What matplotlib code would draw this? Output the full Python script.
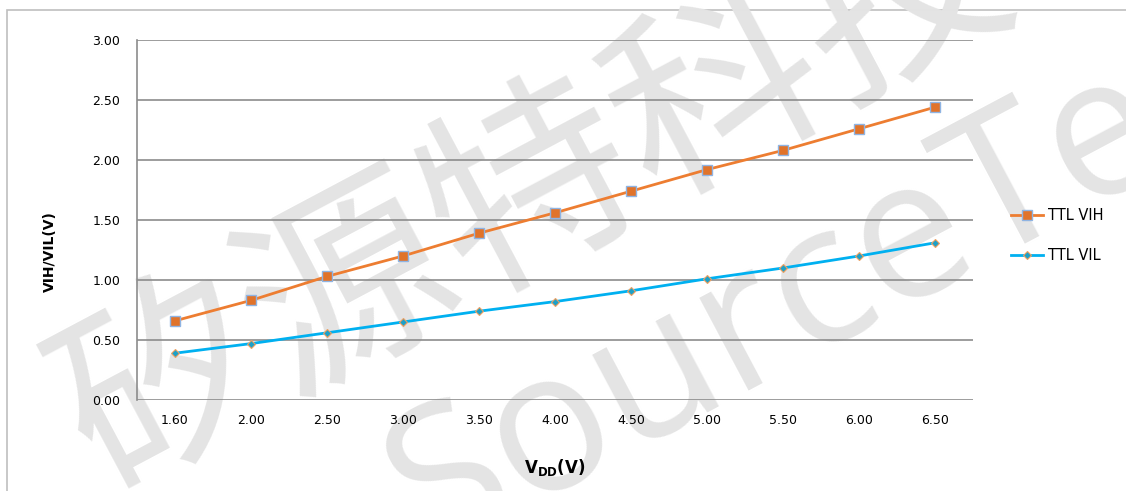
import matplotlib
matplotlib.use("Agg")
import matplotlib.pyplot as plt
from matplotlib.patches import Rectangle

# data
vdd_labels = ["1.60", "2.00", "2.50", "3.00", "3.50", "4.00", "4.50", "5.00", "5.50", "6.00", "6.50"]
ttl_vih = [0.66, 0.83, 1.03, 1.20, 1.39, 1.56, 1.74, 1.92, 2.08, 2.26, 2.44]
ttl_vil = [0.39, 0.47, 0.56, 0.65, 0.74, 0.82, 0.91, 1.01, 1.10, 1.20, 1.31]
y_ticks = [0.0, 0.5, 1.0, 1.5, 2.0, 2.5, 3.0]

W, H = 1126, 491
fig = plt.figure(figsize=(W / 100, H / 100), dpi=100)
fig.patch.set_facecolor("white")

# outer chart border
fig.patches.append(Rectangle((7 / W, -0.05), 1.1, (H - 10) / H + 0.05,
                             transform=fig.transFigure, fill=False,
                             edgecolor="#BFBFBF", linewidth=1.2, zorder=-2))

# watermark (behind everything)
fig.text(535 / W, 1 - 195 / H, "矽源特科技", fontsize=150, color="#E4E4E4",
         family=["Noto Sans CJK SC", "DejaVu Sans"], rotation=28,
         ha="center", va="center", zorder=-1)
fig.text(405 / W, 1 - 510 / H, "SourceTech", fontsize=141, color="#E4E4E4",
         family="Open Sans", rotation=28, rotation_mode="anchor",
         ha="left", va="center", zorder=-1)

ax = fig.add_axes([137 / W, 91 / H, 836 / W, 360 / H])
ax.patch.set_alpha(0)
x = list(range(len(vdd_labels)))

ax.plot(x, ttl_vih, color="#ED7D31", linewidth=2, marker="s", markersize=7,
        markerfacecolor="#E0732A", markeredgecolor="#8FB4E3", markeredgewidth=1,
        label="TTL VIH", zorder=3)
ax.plot(x, ttl_vil, color="#00B0F0", linewidth=2, marker="D", markersize=4.5,
        markerfacecolor="#1CA0C8", markeredgecolor="#F0A060", markeredgewidth=0.8,
        label="TTL VIL", zorder=3)

ax.set_xlim(-0.5, len(vdd_labels) - 0.5)
ax.set_ylim(0, 3.0)
ax.set_yticks(y_ticks)
ax.set_yticklabels([f"{v:.2f}" for v in y_ticks])
ax.set_xticks(x)
ax.set_xticklabels(vdd_labels)
ax.tick_params(axis="x", length=0, labelsize=9, pad=10)
ax.tick_params(axis="y", length=0, labelsize=9, pad=12)
ax.grid(axis="y", color="#8C8C8C", linewidth=1.2)
ax.set_axisbelow(True)
for s in ["top", "right", "bottom"]:
    ax.spines[s].set_visible(False)
ax.spines["left"].set_color("#8C8C8C")
ax.spines["left"].set_linewidth(1.2)

fig.text(50 / W, 1 - 252 / H, "VIH/VIL(V)", rotation=90, ha="center", va="center",
         fontsize=10, fontweight="bold")
fig.text(555 / W, 1 - 467 / H, r"$\mathbf{V_{DD}}$(V)", ha="center", va="center",
         fontsize=12, fontweight="bold")

ax.legend(loc="center left", bbox_to_anchor=(1.03, 0.457), frameon=False,
          fontsize=10.5, labelspacing=1.75, handlelength=2.2, handletextpad=0.3)

fig.savefig("out.png", dpi=100)
